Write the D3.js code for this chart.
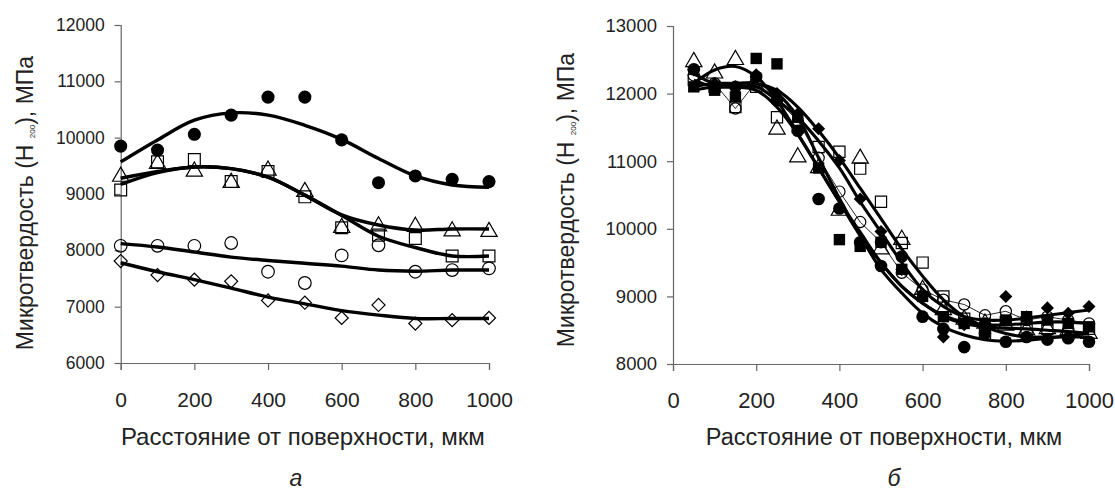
<!DOCTYPE html>
<html>
<head>
<meta charset="utf-8">
<script src="https://cdn.jsdelivr.net/npm/d3@7"></script>
<style>
  body { margin: 0; background: #fff; }
  text { font-family: "Liberation Sans", Arial, sans-serif; fill: #222; }
</style>
</head>
<body>
<div id="chart"></div>
<script>
// ---- data: panel a (depth every 100 um) ----
var depthA = [0, 100, 200, 300, 400, 500, 600, 700, 800, 900, 1000];
var aFilledCircle    = [9850, 9780, 10060, 10400, 10720, 10720, 9960, 9200, 9320, 9260, 9220];
var aFilledCircleFit = [9570, 9960, 10310, 10440, 10400, 10220, 9970, 9630, 9320, 9160, 9120];
var aSquare          = [9070, 9570, 9610, 9220, 9400, 8950, 8400, 8270, 8210, 7900, 7900];
var aSquareFit       = [9170, 9380, 9480, 9450, 9300, 8980, 8620, 8250, 8050, 7900, 7900];
var aTriangle        = [9310, 9540, 9400, 9200, 9420, 9040, 8400, 8430, 8420, 8340, 8330];
var aTriangleFit     = [9280, 9400, 9480, 9450, 9300, 8980, 8630, 8450, 8360, 8380, 8380];
var aCircle          = [8080, 8080, 8080, 8130, 7620, 7420, 7910, 8090, 7620, 7650, 7680];
var aCircleFit       = [8120, 8060, 7970, 7880, 7820, 7770, 7720, 7650, 7630, 7650, 7650];
var aDiamond         = [7810, 7560, 7480, 7450, 7110, 7070, 6800, 7030, 6700, 6760, 6800];
var aDiamondFit      = [7780, 7620, 7480, 7330, 7170, 7050, 6930, 6850, 6790, 6790, 6790];

// ---- data: panel b (depth every 50 um) ----
var depthB = [50, 100, 150, 200, 250, 300, 350, 400, 450, 500, 550, 600, 650, 700, 750, 800, 850, 900, 950, 1000];
var bFilledCircle    = [12360, 12100, 12100, 12250, 11900, 11450, 10440, 10300, 9800, 9450, 9590, 8700, 8520, 8250, 8450, 8330, 8400, 8360, 8380, 8330];
var bFilledCircleFit = [12300, 12150, 12150, 12150, 12000, 11650, 11050, 10450, 9900, 9400, 9050, 8750, 8550, 8430, 8360, 8340, 8350, 8380, 8420, 8450];
var bFilledSquare    = [12100, 12050, 11950, 12520, 12440, 11650, 10900, 9840, 9740, 9800, 9400, 9000, 8700, 8600, 8600, 8650, 8700, 8650, 8600, 8550];
var bFilledSquareFit = [12050, 12100, 12100, 12050, 11800, 11400, 10900, 10400, 9900, 9500, 9150, 8900, 8720, 8620, 8580, 8580, 8600, 8620, 8620, 8600];
var bDiamond         = [12350, 12150, 12100, 12280, 12000, 11700, 11480, 11010, 10440, 9960, 9400, 9040, 8400, 8580, 8600, 9000, 8700, 8830, 8750, 8850];
var bDiamondFit      = [12200, 12100, 12100, 12100, 11900, 11650, 11300, 10900, 10400, 9950, 9500, 9100, 8850, 8700, 8650, 8650, 8680, 8720, 8760, 8800];
var bTriangle        = [12470, 12300, 12500, 12200, 11470, 11060, 10900, 10270, 11040, 9700, 9840, 9100, 8800, 8660, 8600, 8570, 8500, 8520, 8500, 8450];
var bTriangleFit     = [12150, 12350, 12400, 12250, 11900, 11400, 10900, 10400, 9950, 9500, 9150, 8900, 8700, 8600, 8550, 8530, 8520, 8500, 8480, 8450];
var bSquare          = [12200, 12100, 11800, 12100, 11650, 11500, 11210, 11140, 10890, 10400, 9790, 9500, 9000, 8670, 8450, 8620, 8500, 8520, 8450, 8520];
var bSquareFit       = [12100, 12150, 12150, 12150, 12050, 11800, 11450, 11050, 10600, 10150, 9700, 9300, 8950, 8700, 8550, 8450, 8400, 8400, 8400, 8400];
var bCircle          = [12270, 12150, 11780, 12170, 11900, 11600, 11050, 10550, 10100, 9800, 9350, 9100, 8950, 8880, 8720, 8780, 8650, 8700, 8650, 8600];

var yTitleA = "Микротвердость (H ", yTitleSub = "200", yTitleEnd = "), МПа";
var xTitle = "Расстояние от поверхности, мкм";

var svg = d3.select("#chart").append("svg")
  .attr("width", 1115).attr("height", 494)
  .style("background", "#fff");

// draws one panel
function panel(cfg) {
  var x = d3.scaleLinear().domain([0, 1000]).range([cfg.x0, cfg.x1]);
  var y = d3.scaleLinear().domain(cfg.yDomain).range([cfg.y0, cfg.y1]);
  var g = svg.append("g");

  var yAxis = g.append("g")
    .attr("transform", `translate(${cfg.x0},0)`)
    .call(d3.axisLeft(y).tickValues(d3.range(cfg.yDomain[0], cfg.yDomain[1] + 1, 1000))
      .tickSize(6).tickPadding(10).tickFormat(d3.format("d")));
  yAxis.selectAll("text").style("font-size", cfg.yFont + "px");

  var xAxis = g.append("g")
    .attr("transform", `translate(0,${cfg.y0})`)
    .call(d3.axisBottom(x).tickValues(d3.range(0, 1001, 200))
      .tickSize(7).tickFormat(d3.format("d")));
  xAxis.selectAll("text").style("font-size", cfg.xFont + "px")
    .attr("y", 36).attr("dy", "0.36em");

  g.selectAll(".domain, .tick line").attr("stroke", "#666").attr("stroke-width", 1.2);

  // trend curves
  var line = d3.line().x(d => x(d[0])).y(d => y(d[1])).curve(d3.curveCatmullRom.alpha(0.5));
  cfg.series.forEach(function(s) {
    if (!s.fit) return;
    g.append("path").datum(s.depth.map((d, i) => [d, s.fit[i]]))
      .attr("d", line).attr("fill", "none")
      .attr("stroke", "#000").attr("stroke-width", cfg.lw);
  });
  cfg.series.forEach(function(s) {
    if (!s.thin) return;
    g.append("path").datum(s.depth.map((d, i) => [d, s.vals[i]]))
      .attr("d", d3.line().x(d => x(d[0])).y(d => y(d[1])))
      .attr("fill", "none").attr("stroke", "#111").attr("stroke-width", 0.9);
  });

  // markers
  cfg.series.forEach(function(s) {
    var sym = d3.symbol().type(s.type).size(s.size);
    g.selectAll(null).data(s.depth.map((d, i) => [d, s.vals[i]]))
      .enter().append("path")
      .attr("d", sym)
      .attr("transform", d => `translate(${x(d[0])},${y(d[1])})` + (s.rot ? " rotate(45)" : ""))
      .attr("fill", s.filled ? "#000" : "none")
      .attr("stroke", "#000").attr("stroke-width", s.filled ? 0 : 1.2);
  });

  // axis titles
  g.append("text")
    .attr("x", (cfg.x0 + cfg.x1) / 2 + cfg.xtDx).attr("y", 437).attr("dy", "0.35em")
    .attr("text-anchor", "middle").style("font-size", cfg.titleFont + "px")
    .text(xTitle);

  var yt = g.append("text")
    .attr("transform", `translate(${cfg.ytX},${cfg.ytY}) rotate(-90)`)
    .attr("text-anchor", "middle").attr("dy", "0.35em")
    .style("font-size", cfg.yTitleFont + "px");
  yt.append("tspan").text(yTitleA);
  yt.append("tspan").style("font-size", "8px").attr("dy", "2").text(yTitleSub);
  yt.append("tspan").attr("dy", "-2").text(yTitleEnd);

  g.append("text")
    .attr("x", cfg.letterX).attr("y", 478).attr("dy", "0.35em")
    .attr("text-anchor", "middle").style("font-size", "23px").style("font-style", "italic")
    .text(cfg.letter);
}

panel({
  x0: 120.7, x1: 489, y0: 363, y1: 25, yDomain: [6000, 12000],
  yFont: 17.5, xFont: 21, titleFont: 24, yTitleFont: 23, lw: 3.4,
  xtDx: -2, ytX: 25, ytY: 203, letter: "а", letterX: 296,
  series: [
    { depth: depthA, vals: aFilledCircle, fit: aFilledCircleFit, type: d3.symbolCircle, size: 135, filled: true },
    { depth: depthA, vals: aSquare, fit: aSquareFit, type: d3.symbolSquare, size: 140 },
    { depth: depthA, vals: aTriangle, fit: aTriangleFit, type: d3.symbolTriangle, size: 115 },
    { depth: depthA, vals: aCircle, fit: aCircleFit, type: d3.symbolCircle, size: 125 },
    { depth: depthA, vals: aDiamond, fit: aDiamondFit, type: d3.symbolSquare, size: 85, rot: true }
  ]
});

panel({
  x0: 673, x1: 1089, y0: 364, y1: 26, yDomain: [8000, 13000],
  yFont: 18.5, xFont: 22, titleFont: 23.5, yTitleFont: 23, lw: 3.1,
  xtDx: 3, ytX: 566, ytY: 200, letter: "б", letterX: 894,
  series: [
    { depth: depthB, vals: bCircle, type: d3.symbolCircle, size: 100, thin: true },
    { depth: depthB, vals: bFilledCircle, fit: bFilledCircleFit, type: d3.symbolCircle, size: 125, filled: true },
    { depth: depthB, vals: bFilledSquare, fit: bFilledSquareFit, type: d3.symbolSquare, size: 130, filled: true },
    { depth: depthB, vals: bDiamond, fit: bDiamondFit, type: d3.symbolSquare, size: 85, filled: true, rot: true },
    { depth: depthB, vals: bTriangle, fit: bTriangleFit, type: d3.symbolTriangle, size: 115 },
    { depth: depthB, vals: bSquare, fit: bSquareFit, type: d3.symbolSquare, size: 125 }
  ]
});
</script>
</body>
</html>
